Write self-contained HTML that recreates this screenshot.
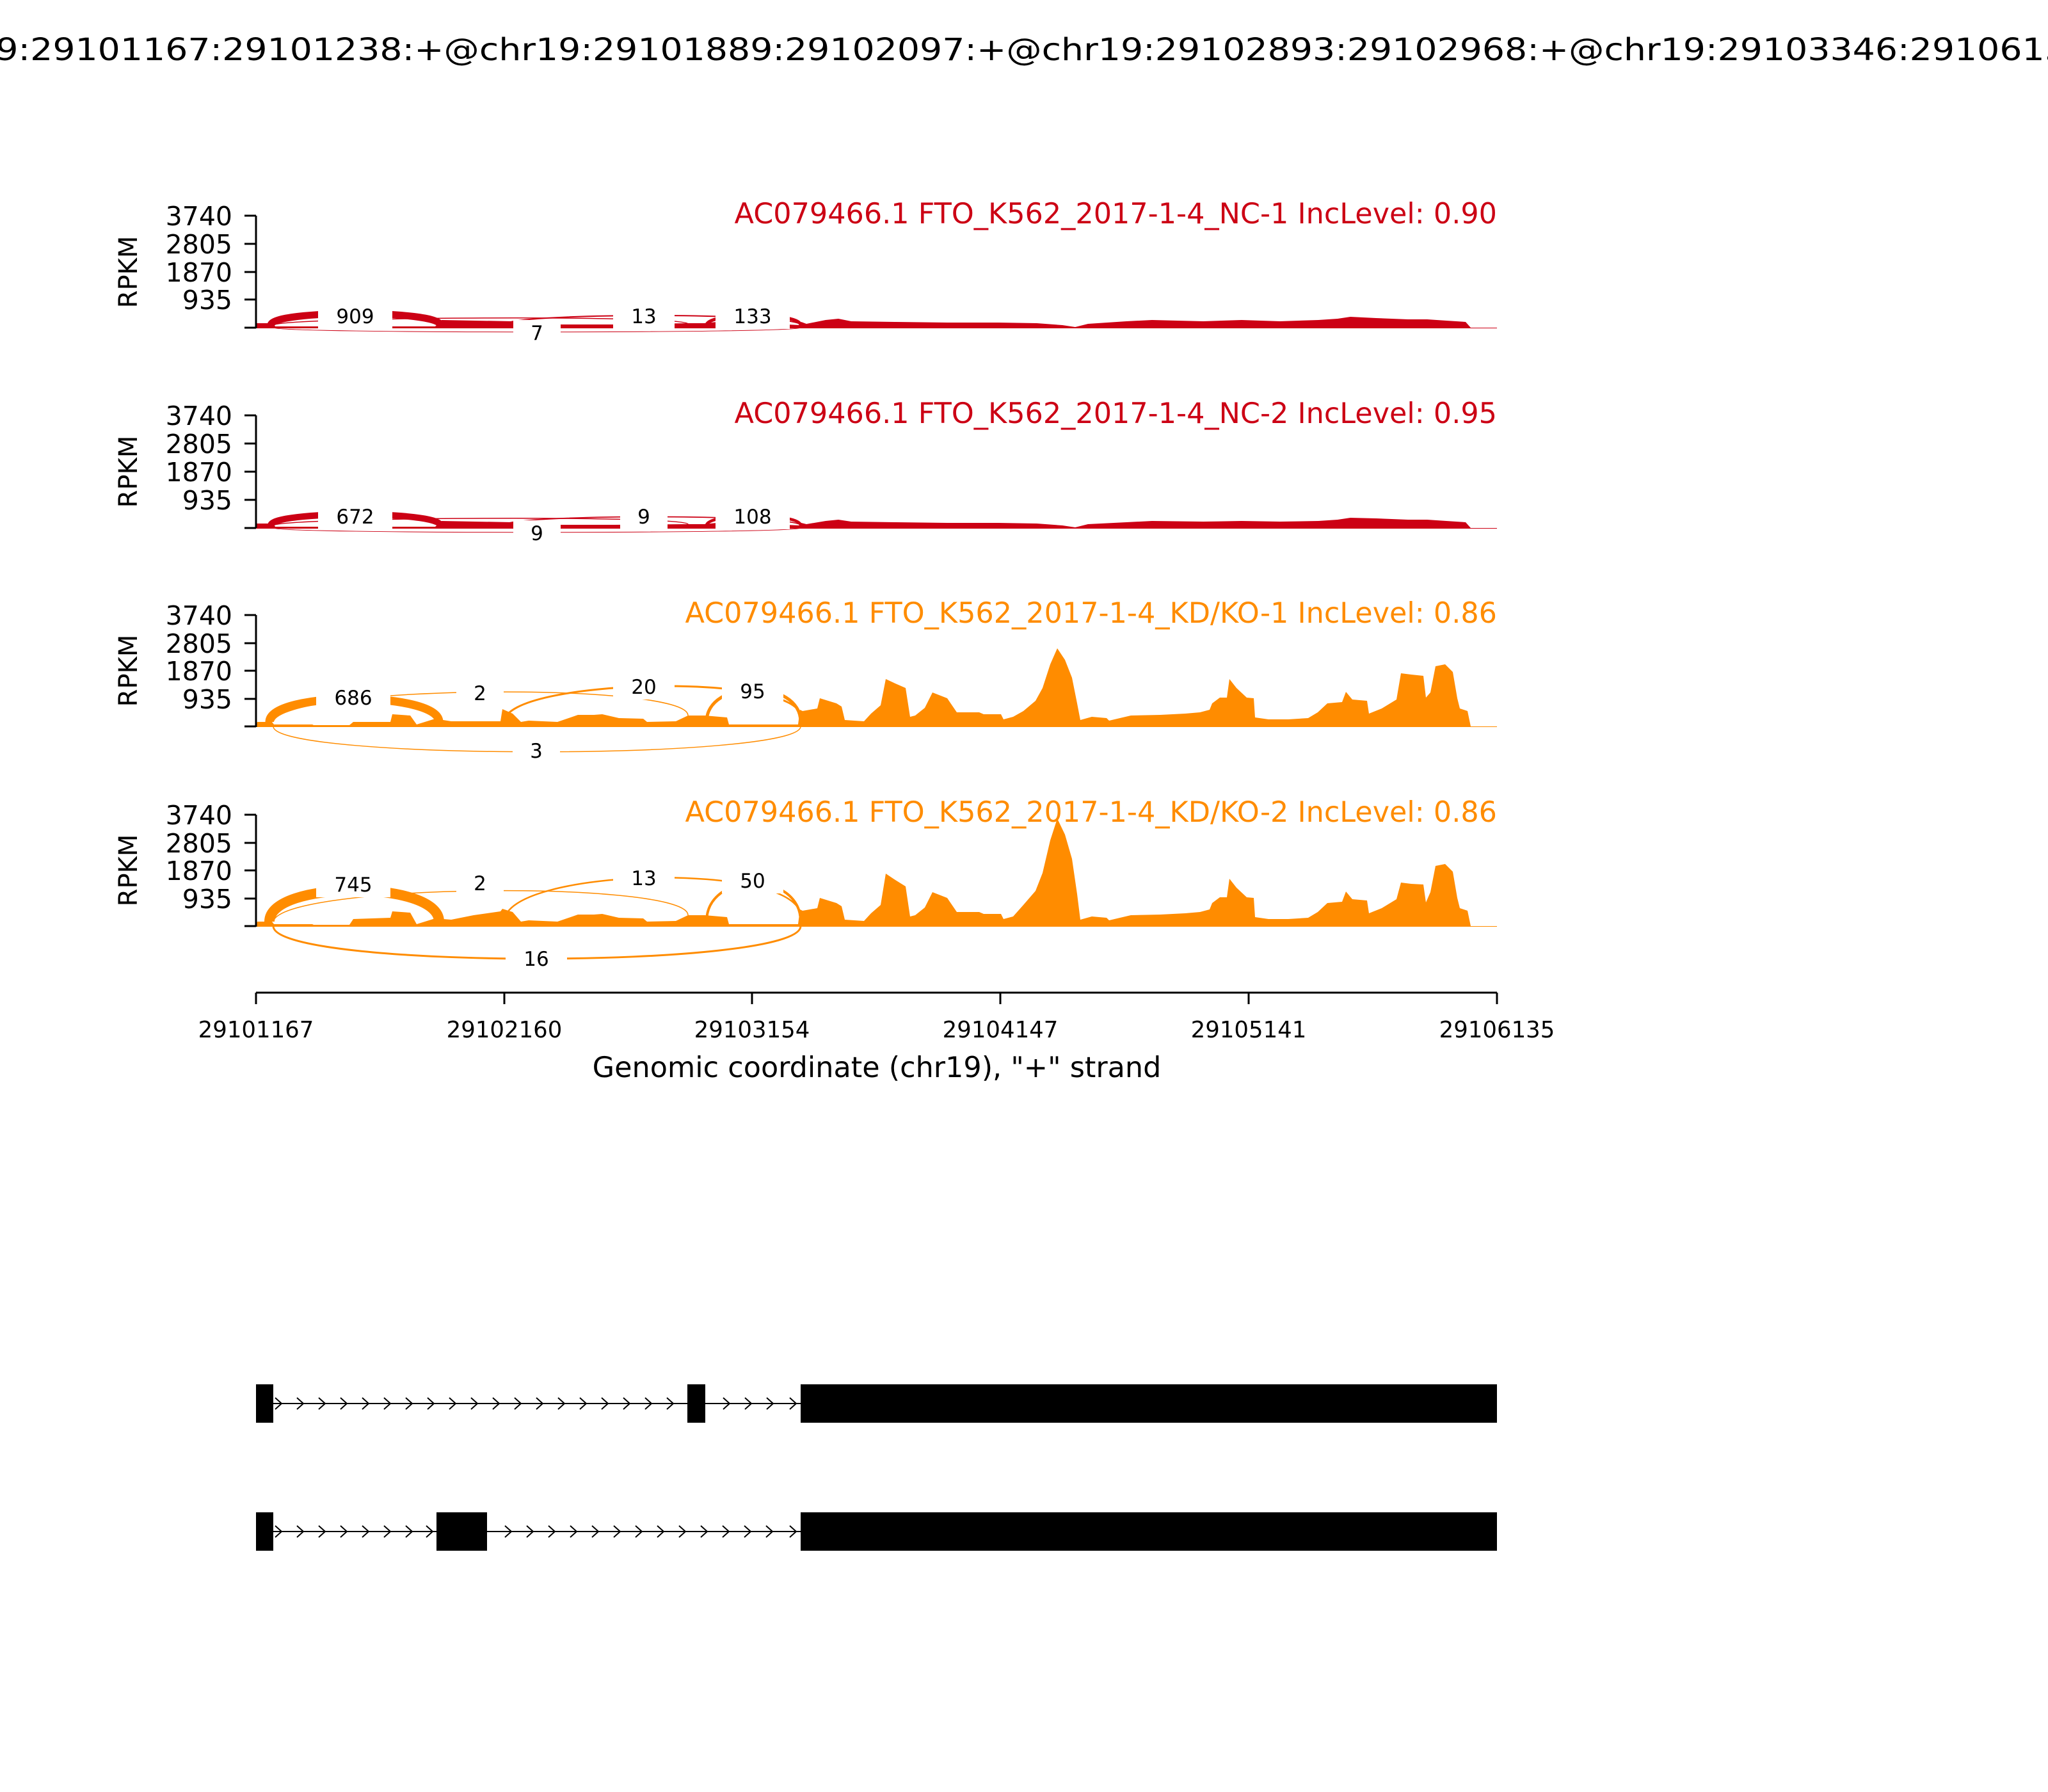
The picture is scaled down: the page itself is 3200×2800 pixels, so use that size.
<!DOCTYPE html>
<html><head><meta charset="utf-8"><style>
html,body{margin:0;padding:0;background:#fff;}
svg{display:block;font-family:"DejaVu Sans","Liberation Sans",sans-serif;}
</style></head><body>
<svg width="3200" height="2800" viewBox="0 0 3200 2800" xmlns="http://www.w3.org/2000/svg">
<defs>
<g id="chev"><polyline points="-6,-9 4,0 -6,9" fill="none" stroke="#000" stroke-width="2"/></g>
</defs>
<rect width="3200" height="2800" fill="#fff"/>
<text x="1600" y="94" font-size="48" text-anchor="middle" textLength="3460" lengthAdjust="spacingAndGlyphs">chr19:29101167:29101238:+@chr19:29101889:29102097:+@chr19:29102893:29102968:+@chr19:29103346:29106135:+</text>

<!-- ===== NC-1 panel ===== -->
<g id="nc1">
<polygon fill="#cc0014" points="400,512 400,505 427,505 430,510 680,510 690,500 800,502 830,507 960,507 1075,505 1100,505 1130,502 1250,508 1252,503 1260,506 1290,500 1310,498 1330,502 1400,503 1480,504 1560,504 1620,505 1660,508 1680,511 1700,506 1760,502 1800,500 1880,502 1940,500 2000,502 2060,500 2090,498 2110,495 2150,497 2200,499 2230,499 2260,501 2290,503 2298,512 2339,512 2339,513 400,513"/>
<g fill="none" stroke="#cc0014">
<path d="M423,508 C423,484 688,484 688,508" stroke-width="11"/>
<path d="M427,508 C440,495 1075,492 1075,506" stroke-width="1.5"/>
<path d="M786,508 C786,488 1251,488 1251,508" stroke-width="2"/>
<path d="M1104,508 C1104,488 1251,488 1251,508" stroke-width="5"/>
<path d="M427,512 C427,521 1251,521 1251,512" stroke-width="1"/>
</g>
</g>
<g font-size="31" text-anchor="middle">
<rect x="497" y="474" width="116" height="40" fill="#fff"/><text x="555" y="505">909</text>
<rect x="802" y="500" width="74" height="40" fill="#fff"/><text x="839" y="531">7</text>
<rect x="958" y="474" width="96" height="40" fill="#fff"/><text x="1006" y="505">13</text>
<rect x="1118" y="474" width="116" height="40" fill="#fff"/><text x="1176" y="505">133</text>
</g>

<!-- ===== NC-2 panel ===== -->
<g transform="translate(0,313)">
<polygon fill="#cc0014" points="400,512 400,505 427,505 430,510 680,510 690,501 800,503 830,507 960,507 1075,506 1100,506 1130,503 1250,508 1252,504 1260,506 1290,501 1310,499 1330,502 1400,503 1480,504 1560,504 1620,505 1660,508 1680,511 1700,506 1760,503 1800,501 1880,502 1940,501 2000,502 2060,501 2090,499 2110,496 2150,497 2200,499 2230,499 2260,501 2290,503 2298,512 2339,512 2339,513 400,513"/>
<g fill="none" stroke="#cc0014">
<path d="M423,508 C423,485 688,485 688,508" stroke-width="10"/>
<path d="M427,508 C440,495 1075,492 1075,506" stroke-width="1.5"/>
<path d="M786,508 C786,490 1251,490 1251,508" stroke-width="1.8"/>
<path d="M1104,508 C1104,488 1251,488 1251,508" stroke-width="4.5"/>
<path d="M427,512 C427,521 1251,521 1251,512" stroke-width="1"/>
</g>
<g font-size="31" text-anchor="middle">
<rect x="497" y="474" width="116" height="40" fill="#fff"/><text x="555" y="505">672</text>
<rect x="802" y="500" width="74" height="40" fill="#fff"/><text x="839" y="531">9</text>
<rect x="969" y="474" width="74" height="40" fill="#fff"/><text x="1006" y="505">9</text>
<rect x="1118" y="474" width="116" height="40" fill="#fff"/><text x="1176" y="505">108</text>
</g>
</g>

<!-- ===== KD-1 panel ===== -->
<polygon fill="#ff8c00" points="400,1135 402,1128 425,1128 428,1132 488,1132 490,1133 546,1133 552,1128 610,1128 613,1116 641,1118 651,1132 680,1123 705,1127 782,1127 785,1108 801,1115 814,1128 826,1126 871,1128 903,1117 928,1117 941,1116 967,1122 1005,1123 1011,1128 1056,1127 1075,1118 1101,1118 1136,1121 1139,1132 1247,1132 1250,1109 1254,1111 1277,1107 1281,1091 1307,1099 1315,1104 1320,1125 1350,1127 1361,1115 1376,1102 1384,1061 1399,1068 1415,1075 1422,1120 1430,1118 1445,1106 1457,1082 1480,1091 1495,1113 1530,1113 1537,1116 1564,1116 1568,1124 1583,1120 1599,1111 1618,1095 1629,1075 1641,1038 1652,1013 1664,1031 1675,1059 1683,1099 1688,1125 1706,1120 1729,1122 1733,1126 1767,1118 1813,1117 1852,1115 1875,1113 1890,1109 1894,1099 1906,1090 1917,1090 1921,1061 1932,1075 1948,1090 1959,1091 1961,1121 1982,1124 2013,1124 2044,1122 2059,1113 2074,1099 2097,1097 2103,1081 2113,1093 2136,1095 2139,1115 2159,1107 2182,1093 2189,1052 2205,1054 2224,1056 2228,1090 2235,1082 2243,1041 2258,1038 2270,1050 2277,1091 2281,1107 2293,1111 2298,1135 2339,1135 2339,1136 400,1136"/>
<g fill="none" stroke="#ff8c00">
<path d="M421,1128 C421,1080 686,1080 686,1128" stroke-width="13"/>
<path d="M427,1128 C440,1070 1075,1065 1075,1118" stroke-width="1.5"/>
<path d="M788,1128 C788,1060 1251,1050 1251,1120" stroke-width="3"/>
<path d="M1104,1128 C1104,1060 1251,1060 1251,1128" stroke-width="5"/>
<path d="M427,1135 C427,1188 1251,1188 1251,1135" stroke-width="1.5"/>
</g>
<g font-size="31" text-anchor="middle">
<rect x="494" y="1070" width="116" height="40" fill="#fff"/><text x="552" y="1101">686</text>
<rect x="713" y="1063" width="74" height="40" fill="#fff"/><text x="750" y="1094">2</text>
<rect x="958" y="1053" width="96" height="40" fill="#fff"/><text x="1006" y="1084">20</text>
<rect x="1128" y="1060" width="96" height="40" fill="#fff"/><text x="1176" y="1091">95</text>
<rect x="801" y="1153" width="74" height="40" fill="#fff"/><text x="838" y="1184">3</text>
</g>

<!-- ===== KD-2 panel ===== -->
<polygon fill="#ff8c00" points="400,1447 402,1440 425,1440 428,1444 488,1444 490,1445 546,1445 552,1436 610,1434 613,1424 641,1426 651,1444 680,1435 705,1437 740,1430 782,1424 785,1420 801,1425 814,1440 826,1438 871,1440 903,1429 928,1429 941,1428 967,1434 1005,1435 1011,1440 1056,1439 1075,1430 1101,1430 1136,1433 1139,1444 1247,1444 1250,1421 1254,1423 1277,1419 1281,1403 1307,1411 1315,1416 1320,1437 1350,1439 1361,1427 1376,1414 1384,1365 1399,1375 1415,1385 1422,1432 1430,1430 1445,1418 1457,1394 1480,1403 1495,1425 1530,1425 1537,1428 1564,1428 1568,1436 1583,1432 1599,1414 1618,1392 1629,1364 1641,1313 1652,1279 1664,1304 1675,1342 1683,1397 1688,1437 1706,1432 1729,1434 1733,1438 1767,1430 1813,1429 1852,1427 1875,1425 1890,1421 1894,1411 1906,1402 1917,1402 1921,1373 1932,1387 1948,1402 1959,1403 1961,1433 1982,1436 2013,1436 2044,1434 2059,1425 2074,1411 2097,1409 2103,1393 2113,1405 2136,1407 2139,1427 2159,1419 2182,1405 2189,1379 2205,1381 2224,1382 2228,1410 2235,1394 2243,1353 2258,1350 2270,1362 2277,1403 2281,1419 2293,1423 2298,1447 2339,1447 2339,1448 400,1448"/>
<g fill="none" stroke="#ff8c00">
<path d="M421,1440 C421,1375 686,1375 686,1440" stroke-width="16"/>
<path d="M427,1440 C440,1380 1075,1375 1075,1430" stroke-width="1.5"/>
<path d="M788,1440 C788,1355 1251,1345 1251,1432" stroke-width="2.5"/>
<path d="M1104,1440 C1104,1360 1251,1360 1251,1440" stroke-width="4"/>
<path d="M427,1447 C427,1515 1251,1515 1251,1447" stroke-width="3"/>
</g>
<g font-size="31" text-anchor="middle">
<rect x="494" y="1362" width="116" height="40" fill="#fff"/><text x="552" y="1393">745</text>
<rect x="713" y="1360" width="74" height="40" fill="#fff"/><text x="750" y="1391">2</text>
<rect x="958" y="1352" width="96" height="40" fill="#fff"/><text x="1006" y="1383">13</text>
<rect x="1128" y="1356" width="96" height="40" fill="#fff"/><text x="1176" y="1387">50</text>
<rect x="790" y="1478" width="96" height="40" fill="#fff"/><text x="838" y="1509">16</text>
</g>

<!-- ===== Axes ===== -->
<g stroke="#000" stroke-width="3" fill="none">
<path d="M400,337 V513"/><path d="M400,649 V825"/><path d="M400,961 V1136"/><path d="M400,1273 V1448"/>
<path d="M382,337H400 M382,381H400 M382,425H400 M382,468H400 M382,512H400"/>
<path d="M382,649H400 M382,693H400 M382,737H400 M382,781H400 M382,825H400"/>
<path d="M382,961H400 M382,1005H400 M382,1048H400 M382,1092H400 M382,1135H400"/>
<path d="M382,1273H400 M382,1317H400 M382,1360H400 M382,1404H400 M382,1447H400"/>
<path d="M400,1551 H2339"/>
<path d="M400,1551V1569 M788,1551V1569 M1175,1551V1569 M1563,1551V1569 M1951,1551V1569 M2339,1551V1569"/>
</g>
<g font-size="41" text-anchor="end">
<text x="363" y="352">3740</text><text x="363" y="396">2805</text><text x="363" y="440">1870</text><text x="363" y="483">935</text>
<text x="363" y="664">3740</text><text x="363" y="708">2805</text><text x="363" y="752">1870</text><text x="363" y="796">935</text>
<text x="363" y="976">3740</text><text x="363" y="1020">2805</text><text x="363" y="1063">1870</text><text x="363" y="1107">935</text>
<text x="363" y="1288">3740</text><text x="363" y="1332">2805</text><text x="363" y="1375">1870</text><text x="363" y="1419">935</text>
</g>
<g font-size="40" text-anchor="middle">
<text transform="translate(214,425) rotate(-90)">RPKM</text>
<text transform="translate(214,737) rotate(-90)">RPKM</text>
<text transform="translate(214,1048) rotate(-90)">RPKM</text>
<text transform="translate(214,1360) rotate(-90)">RPKM</text>
</g>
<g font-size="44.5" text-anchor="end">
<text x="2339" y="349" fill="#cc0014">AC079466.1 FTO_K562_2017-1-4_NC-1 IncLevel: 0.90</text>
<text x="2339" y="661" fill="#cc0014">AC079466.1 FTO_K562_2017-1-4_NC-2 IncLevel: 0.95</text>
<text x="2339" y="973" fill="#ff8c00">AC079466.1 FTO_K562_2017-1-4_KD/KO-1 IncLevel: 0.86</text>
<text x="2339" y="1284" fill="#ff8c00">AC079466.1 FTO_K562_2017-1-4_KD/KO-2 IncLevel: 0.86</text>
</g>
<g font-size="35.5" text-anchor="middle">
<text x="400" y="1621">29101167</text><text x="788" y="1621">29102160</text><text x="1175" y="1621">29103154</text>
<text x="1563" y="1621">29104147</text><text x="1951" y="1621">29105141</text><text x="2339" y="1621">29106135</text>
</g>
<text x="1370" y="1683" font-size="44.5" text-anchor="middle">Genomic coordinate (chr19), "+" strand</text>

<!-- ===== Gene models ===== -->
<g>
<line x1="427" y1="2193" x2="1251" y2="2193" stroke="#000" stroke-width="2"/>
<rect x="400" y="2163" width="27" height="60" fill="#000"/>
<rect x="1074" y="2163" width="28" height="60" fill="#000"/>
<rect x="1251" y="2163" width="1088" height="60" fill="#000"/>
<g transform="translate(0,2193)">
<use href="#chev" x="436"/><use href="#chev" x="470"/><use href="#chev" x="504"/><use href="#chev" x="538"/><use href="#chev" x="572"/><use href="#chev" x="606"/><use href="#chev" x="640"/><use href="#chev" x="674"/><use href="#chev" x="708"/><use href="#chev" x="742"/><use href="#chev" x="776"/><use href="#chev" x="810"/><use href="#chev" x="844"/><use href="#chev" x="878"/><use href="#chev" x="912"/><use href="#chev" x="946"/><use href="#chev" x="980"/><use href="#chev" x="1014"/><use href="#chev" x="1048"/>
<use href="#chev" x="1136"/><use href="#chev" x="1170"/><use href="#chev" x="1204"/><use href="#chev" x="1240"/>
</g>
<line x1="427" y1="2393" x2="1251" y2="2393" stroke="#000" stroke-width="2"/>
<rect x="400" y="2363" width="27" height="60" fill="#000"/>
<rect x="682" y="2363" width="79" height="60" fill="#000"/>
<rect x="1251" y="2363" width="1088" height="60" fill="#000"/>
<g transform="translate(0,2393)">
<use href="#chev" x="436"/><use href="#chev" x="470"/><use href="#chev" x="504"/><use href="#chev" x="538"/><use href="#chev" x="572"/><use href="#chev" x="606"/><use href="#chev" x="640"/><use href="#chev" x="672"/>
<use href="#chev" x="795"/><use href="#chev" x="829"/><use href="#chev" x="863"/><use href="#chev" x="897"/><use href="#chev" x="931"/><use href="#chev" x="965"/><use href="#chev" x="999"/><use href="#chev" x="1033"/><use href="#chev" x="1067"/><use href="#chev" x="1101"/><use href="#chev" x="1135"/><use href="#chev" x="1169"/><use href="#chev" x="1203"/><use href="#chev" x="1240"/>
</g>
</g>
</svg>
</body></html>
